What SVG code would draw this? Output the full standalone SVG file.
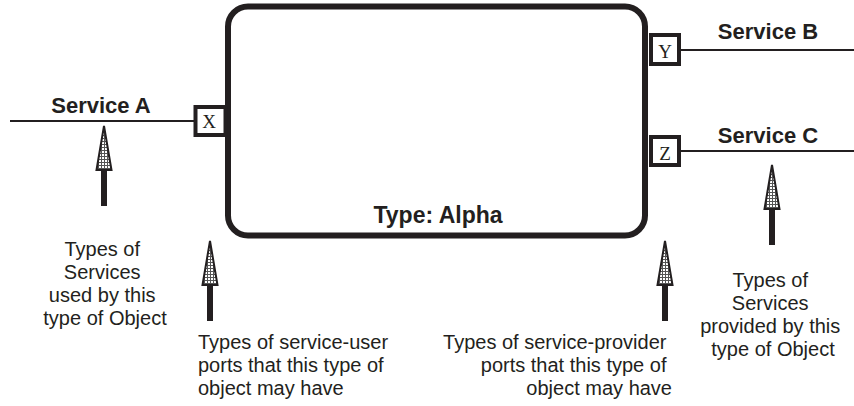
<svg xmlns="http://www.w3.org/2000/svg" width="854" height="406" viewBox="0 0 854 406">
<style>
.lbl{font-family:"Liberation Sans",Arial,sans-serif;font-weight:bold;font-size:22px;fill:#231f20}
.txt{font-family:"Liberation Sans",Arial,sans-serif;font-size:20px;fill:#231f20}
.port{fill:#fff;stroke:#231f20;stroke-width:4}
.pl{font-family:"Liberation Serif","Times New Roman",serif;font-size:19px;fill:#231f20;text-anchor:middle}
.wire{stroke:#231f20;stroke-width:2;fill:none}
.head{fill:url(#dots);stroke:#231f20;stroke-width:2;stroke-linejoin:miter}
.shaft{fill:#231f20}
</style>
<defs>
<pattern id="dots" width="3" height="3" patternUnits="userSpaceOnUse">
<rect width="3" height="3" fill="#fff"/>
<rect width="3" height="1" fill="#555"/>
<rect width="1" height="3" fill="#555"/>
</pattern>
<g id="arrow">
<rect class="shaft" x="-3" y="44" width="6" height="36"/>
<polygon class="head" points="0,0 7.5,44 -7.5,44"/>
</g>
</defs>

<g id="connectors">
<line class="wire" x1="10" y1="121" x2="196" y2="121"/>
<line class="wire" x1="680" y1="50" x2="854" y2="50"/>
<line class="wire" x1="680" y1="151" x2="854" y2="151"/>
</g>

<g id="alpha">
<rect x="228" y="6.5" width="417" height="229" rx="20" ry="20" fill="#fff" stroke="#231f20" stroke-width="6"/>
<text class="lbl" x="438" y="223" text-anchor="middle" style="font-size:23px">Type: Alpha</text>
</g>

<g id="portX">
<rect class="port" x="195.5" y="107" width="30" height="28"/>
<text class="pl" x="209" y="128">X</text>
</g>
<g id="portY">
<rect class="port" x="651" y="35" width="28" height="29"/>
<text class="pl" x="665" y="58">Y</text>
</g>
<g id="portZ">
<rect class="port" x="651" y="137" width="28" height="28"/>
<text class="pl" x="665" y="160">Z</text>
</g>

<g id="serviceA"><text class="lbl" x="101" y="113" text-anchor="middle">Service A</text></g>
<g id="serviceB"><text class="lbl" x="768" y="39" text-anchor="middle">Service B</text></g>
<g id="serviceC"><text class="lbl" x="768" y="143" text-anchor="middle">Service C</text></g>

<g id="arrows">
<use href="#arrow" x="104" y="126"/>
<use href="#arrow" x="210" y="241"/>
<use href="#arrow" x="665" y="241"/>
<use href="#arrow" x="772" y="165"/>
</g>

<g id="noteUsed">
<text class="txt" text-anchor="middle">
<tspan x="105" y="256">Types of</tspan>
<tspan x="105" y="279">Services</tspan>
<tspan x="105" y="302">used by this</tspan>
<tspan x="105" y="325">type of Object</tspan>
</text>
</g>
<g id="noteUserPorts">
<text class="txt">
<tspan x="198" y="349">Types of service-user</tspan>
<tspan x="198" y="372">ports that this type of</tspan>
<tspan x="198" y="395">object may have</tspan>
</text>
</g>
<g id="noteProviderPorts">
<text class="txt" text-anchor="end">
<tspan x="672" y="349">Types of service-provider</tspan>
<tspan x="672" y="372">ports that this type of</tspan>
<tspan x="672" y="395">object may have</tspan>
</text>
</g>
<g id="noteProvided">
<text class="txt" text-anchor="middle">
<tspan x="773" y="287">Types of</tspan>
<tspan x="773" y="310">Services</tspan>
<tspan x="773" y="333">provided by this</tspan>
<tspan x="773" y="356">type of Object</tspan>
</text>
</g>
</svg>
